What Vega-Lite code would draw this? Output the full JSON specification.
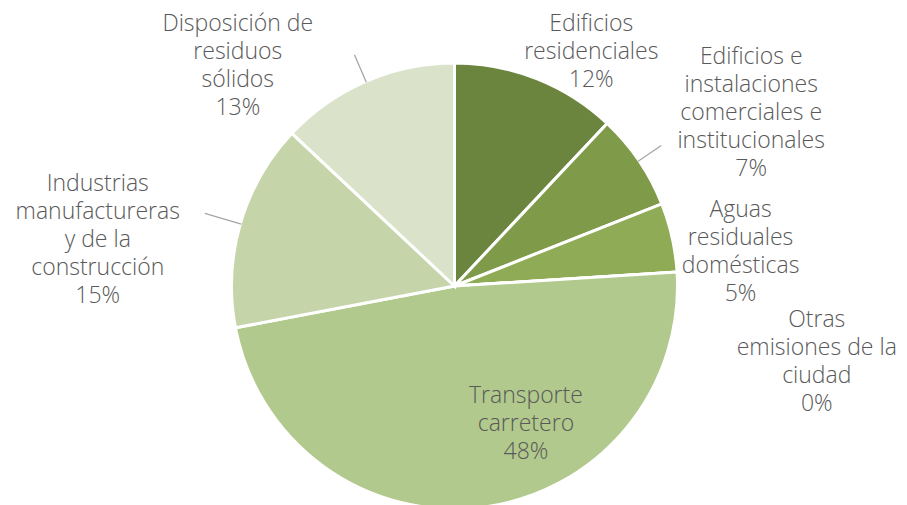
{
  "$schema": "https://vega.github.io/schema/vega-lite/v6.json",
  "width": 905,
  "height": 438,
  "autosize": "none",
  "padding": {"left": 2, "top": 67, "right": 0, "bottom": 0},
  "background": "white",
  "config": {
    "view": {"stroke": null},
    "text": {"font": "Open Sans", "fontSize": 23, "fontWeight": 300, "color": "#595959", "lineHeight": 28, "baseline": "middle", "align": "center"}
  },
  "data": {
    "values": [
      {"categoria": "Edificios residenciales", "valor": 12, "orden": 1, "etiqueta": ["Edificios", "residenciales", "12%"]},
      {"categoria": "Edificios e instalaciones comerciales e institucionales", "valor": 7, "orden": 2, "etiqueta": ["Edificios e", "instalaciones", "comerciales e", "institucionales", "7%"]},
      {"categoria": "Aguas residuales domésticas", "valor": 5, "orden": 3, "etiqueta": ["Aguas", "residuales", "domésticas", "5%"]},
      {"categoria": "Otras emisiones de la ciudad", "valor": 0, "orden": 4, "etiqueta": ["Otras", "emisiones de la", "ciudad", "0%"]},
      {"categoria": "Transporte carretero", "valor": 48, "orden": 5, "etiqueta": ["Transporte", "carretero", "48%"]},
      {"categoria": "Industrias manufactureras y de la construcción", "valor": 15, "orden": 6, "etiqueta": ["Industrias", "manufactureras", "y de la", "construcción", "15%"]},
      {"categoria": "Disposición de residuos sólidos", "valor": 13, "orden": 7, "etiqueta": ["Disposición de", "residuos", "sólidos", "13%"]}
    ]
  },
  "encoding": {
    "theta": {"field": "valor", "type": "quantitative", "stack": true},
    "order": {"field": "orden", "type": "quantitative"}
  },
  "layer": [
    {
      "mark": {"type": "arc", "radius": 223, "stroke": "white", "strokeWidth": 3},
      "encoding": {
        "color": {
          "field": "categoria",
          "type": "nominal",
          "legend": null,
          "scale": {
            "domain": ["Edificios residenciales", "Edificios e instalaciones comerciales e institucionales", "Aguas residuales domésticas", "Otras emisiones de la ciudad", "Transporte carretero", "Industrias manufactureras y de la construcción", "Disposición de residuos sólidos"],
            "range": ["#6b853e", "#7f9b4a", "#8fab55", "#9fba6a", "#b1c98c", "#c5d5a9", "#dae3c9"]
          }
        }
      }
    },
    {
      "mark": {"type": "arc", "radius": 250, "radius2": 222, "filled": false, "stroke": "#a6a6a6", "strokeWidth": 1.3, "padAngle": 1.0},
      "encoding": {
        "detail": {"field": "categoria"},
        "strokeOpacity": {"condition": {"test": "datum.categoria === 'Edificios e instalaciones comerciales e institucionales'", "value": 1}, "value": 0}
      }
    },
    {
      "mark": {"type": "arc", "radius": 260, "radius2": 222, "filled": false, "stroke": "#a6a6a6", "strokeWidth": 1.3, "padAngle": 1.0},
      "encoding": {
        "detail": {"field": "categoria"},
        "strokeOpacity": {"condition": {"test": "datum.categoria === 'Industrias manufactureras y de la construcción'", "value": 1}, "value": 0}
      }
    },
    {
      "mark": {"type": "arc", "radius": 252, "radius2": 222, "filled": false, "stroke": "#a6a6a6", "strokeWidth": 1.3, "padAngle": 1.0},
      "encoding": {
        "detail": {"field": "categoria"},
        "strokeOpacity": {"condition": {"test": "datum.categoria === 'Disposición de residuos sólidos'", "value": 1}, "value": 0}
      }
    },
    {
      "mark": {"type": "text", "radius": 271, "dx": 37, "dy": -10},
      "encoding": {
        "detail": {"field": "categoria"},
        "text": {"condition": {"test": "datum.categoria === 'Edificios residenciales'", "field": "etiqueta"}, "value": ""}
      }
    },
    {
      "mark": {"type": "text", "radius": 343, "dx": 13, "dy": -36},
      "encoding": {
        "detail": {"field": "categoria"},
        "text": {"condition": {"test": "datum.categoria === 'Edificios e instalaciones comerciales e institucionales'", "field": "etiqueta"}, "value": ""}
      }
    },
    {
      "mark": {"type": "text", "radius": 288, "dx": 5, "dy": -13},
      "encoding": {
        "detail": {"field": "categoria"},
        "text": {"condition": {"test": "datum.categoria === 'Aguas residuales domésticas'", "field": "etiqueta"}, "value": ""}
      }
    },
    {
      "mark": {"type": "text", "radius": 370, "dx": -7, "dy": 57},
      "encoding": {
        "detail": {"field": "categoria"},
        "text": {"condition": {"test": "datum.categoria === 'Otras emisiones de la ciudad'", "field": "etiqueta"}, "value": ""}
      }
    },
    {
      "mark": {"type": "text", "radius": 155, "dx": 52, "dy": -44},
      "encoding": {
        "detail": {"field": "categoria"},
        "text": {"condition": {"test": "datum.categoria === 'Transporte carretero'", "field": "etiqueta"}, "value": ""}
      }
    },
    {
      "mark": {"type": "text", "radius": 359, "dx": -12, "dy": -2},
      "encoding": {
        "detail": {"field": "categoria"},
        "text": {"condition": {"test": "datum.categoria === 'Industrias manufactureras y de la construcción'", "field": "etiqueta"}, "value": ""}
      }
    },
    {
      "mark": {"type": "text", "radius": 309, "dx": -94, "dy": 22},
      "encoding": {
        "detail": {"field": "categoria"},
        "text": {"condition": {"test": "datum.categoria === 'Disposición de residuos sólidos'", "field": "etiqueta"}, "value": ""}
      }
    }
  ]
}
